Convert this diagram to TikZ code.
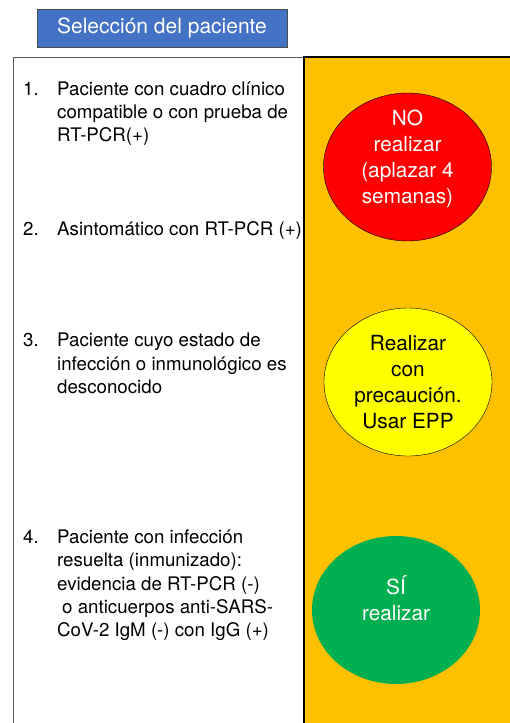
\documentclass[tikz,border=0pt]{standalone}
\usepackage{fontspec}
\setmainfont{TeX Gyre Heros}
\usetikzlibrary{arrows,shapes,positioning}
\definecolor{selblue}{RGB}{68,114,196}
\definecolor{selorange}{RGB}{255,192,0}
\definecolor{selred}{RGB}{255,0,0}
\definecolor{selyellow}{RGB}{255,255,0}
\definecolor{selgreen}{RGB}{0,176,80}
\tikzstyle{title} = [rectangle, minimum width=250pt, minimum height=38pt, draw=gray!60!black, fill=selblue, text=white, font=\fontsize{21}{25}\selectfont]
\tikzstyle{criterion} = [anchor=north west, inner sep=0pt, font=\fontsize{18.7}{23.3}\selectfont]
\tikzstyle{decision} = [ellipse, minimum width=168pt, minimum height=148pt, inner sep=0pt]
\tikzstyle{decisiontext} = [align=center, inner sep=0pt, font=\fontsize{20.8}{25.8}\selectfont]

\begin{document}
\begin{tikzpicture}[x=1pt, y=-1pt]
\useasboundingbox (0,0) rectangle (510,723);
\clip (0,0) rectangle (510,723);

\node[title] (title) at (162,28) {Selección del paciente};

% columns
\draw[gray!70!black, thin] (13,740) -- (13,57) -- (304,57);
\fill[selorange] (304,57) rectangle (520,740);
\draw[black, line width=1.2pt] (304,740) -- (304,57) -- (520,57);

% criteria
\node[criterion] (crit1) at (23,78.7) {\begin{tabular}{@{}p{34pt}@{}l@{}}1.&Paciente con cuadro clínico\\&compatible o con prueba de\\&RT-PCR(+)\end{tabular}};
\node[criterion] (crit2) at (23,218.7) {\begin{tabular}{@{}p{34pt}@{}l@{}}2.&Asintomático con RT-PCR (+)\end{tabular}};
\node[criterion] (crit3) at (23,330.4) {\begin{tabular}{@{}p{34pt}@{}l@{}}3.&Paciente cuyo estado de\\&infección o inmunológico es\\&desconocido\end{tabular}};
\node[criterion] (crit4) at (23,527) {\begin{tabular}{@{}p{34pt}@{}l@{}}4.&Paciente con infección\\&resuelta (inmunizado):\\&evidencia de RT-PCR (-)\\&\hspace{5pt}o anticuerpos anti-SARS-\\&CoV-2 IgM (-) con IgG (+)\end{tabular}};

% decisions
\node[decision, fill=selred, draw=black] (no) at (407.5,167) {};
\node[decisiontext, text=white] (notext) at ([yshift=8pt]no.center) {NO\\realizar\\(aplazar 4\\semanas)};

\node[decision, fill=selyellow, draw=black] (caution) at (408,382) {};
\node[decisiontext, text=black] (cautiontext) at (caution.center) {Realizar\\con\\precaución.\\Usar EPP};

\node[decision, fill=selgreen] (yes) at (396,610) {};
\node[decisiontext, text=white] (yestext) at ([yshift=12pt]yes.center) {SÍ\\realizar};
\end{tikzpicture}
\end{document}
